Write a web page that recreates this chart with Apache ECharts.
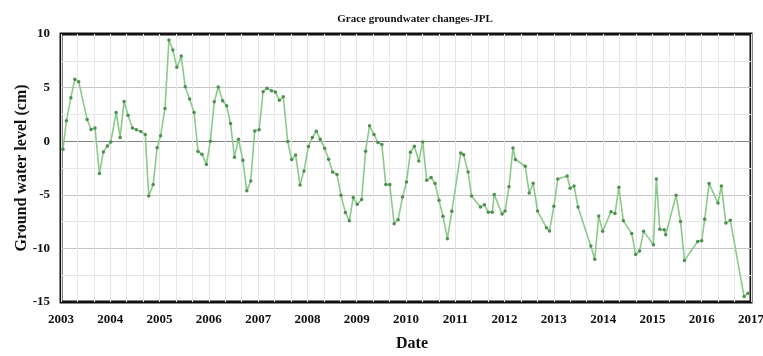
<!DOCTYPE html>
<html>
<head>
<meta charset="utf-8">
<script src="https://cdn.jsdelivr.net/npm/echarts@6/dist/echarts.min.js"></script>
<style>
  html, body { margin: 0; padding: 0; background: #fff; }
  #chart { width: 763px; height: 356px; }
</style>
</head>
<body>
<div id="chart"></div>
<script>
// GRACE (JPL) groundwater anomaly, monthly solutions, decimal years
const years = [
  2003.04, 2003.11, 2003.20, 2003.28, 2003.36, 2003.53, 2003.61, 2003.69, 2003.78, 2003.86, 2003.94,
  2004.01, 2004.12, 2004.20, 2004.28, 2004.36, 2004.45, 2004.53, 2004.62, 2004.71, 2004.78, 2004.87, 2004.95,
  2005.02, 2005.11, 2005.19, 2005.27, 2005.35, 2005.44, 2005.52, 2005.61, 2005.70, 2005.78, 2005.86, 2005.95,
  2006.03, 2006.11, 2006.19, 2006.28, 2006.36, 2006.44, 2006.52, 2006.60, 2006.69, 2006.77, 2006.85, 2006.93,
  2007.02, 2007.10, 2007.18, 2007.27, 2007.35, 2007.43, 2007.51, 2007.60, 2007.68, 2007.76, 2007.85, 2007.93,
  2008.02, 2008.10, 2008.18, 2008.26, 2008.35, 2008.43, 2008.51, 2008.60, 2008.68, 2008.77, 2008.85, 2008.93,
  2009.01, 2009.10, 2009.18, 2009.26, 2009.35, 2009.43, 2009.51, 2009.59, 2009.67, 2009.76, 2009.84, 2009.93,
  2010.01, 2010.09, 2010.17, 2010.26, 2010.34, 2010.42, 2010.51, 2010.59, 2010.67, 2010.75, 2010.84, 2010.93,
  2011.11, 2011.17, 2011.26, 2011.33, 2011.51, 2011.59, 2011.67, 2011.75, 2011.79, 2011.95,
  2012.01, 2012.09, 2012.17, 2012.22, 2012.42, 2012.50, 2012.58, 2012.67, 2012.85, 2012.91,
  2013.00, 2013.08, 2013.27, 2013.33, 2013.41, 2013.49, 2013.75, 2013.83, 2013.91, 2013.99,
  2014.16, 2014.24, 2014.32, 2014.41, 2014.58, 2014.66, 2014.74, 2014.82,
  2015.02, 2015.08, 2015.15, 2015.24, 2015.27, 2015.48, 2015.57, 2015.65, 2015.92,
  2016.00, 2016.06, 2016.15, 2016.33, 2016.40, 2016.49, 2016.58, 2016.86, 2016.94
];

// Groundwater level anomaly (cm)
const levels = [
  -0.75, 1.90, 4.05, 5.77, 5.54, 2.03, 1.09, 1.24, -3.02, -1.00, -0.44,
  -0.07, 2.68, 0.35, 3.71, 2.43, 1.24, 1.06, 0.91, 0.63, -5.11, -4.05, -0.61,
  0.50, 3.06, 9.44, 8.50, 6.89, 7.94, 5.07, 3.93, 2.68, -0.96, -1.21, -2.18,
  0.00, 3.67, 5.05, 3.77, 3.30, 1.65, -1.50, 0.19, -1.78, -4.63, -3.71, 0.96,
  1.06, 4.61, 4.95, 4.70, 4.58, 3.83, 4.14, -0.03, -1.71, -1.28, -4.08, -2.78,
  -0.50, 0.35, 0.93, 0.19, -0.65, -1.68, -2.87, -3.11, -5.05, -6.64, -7.43, -5.26,
  -5.89, -5.45, -0.93, 1.43, 0.63, -0.12, -0.31, -4.05, -4.05, -7.69, -7.32, -5.21,
  -3.80, -1.03, -0.47, -1.84, -0.07, -3.64, -3.39, -3.95, -5.51, -7.01, -9.09, -6.54,
  -1.11, -1.27, -2.87, -5.12, -6.14, -5.92, -6.62, -6.62, -4.97, -6.78,
  -6.52, -4.25, -0.63, -1.71, -2.34, -4.83, -3.93, -6.52, -8.08, -8.38,
  -6.07, -3.53, -3.24, -4.39, -4.19, -6.14, -9.77, -11.01, -6.98, -8.41,
  -6.57, -6.75, -4.30, -7.43, -8.60, -10.56, -10.25, -8.41,
  -9.66, -3.52, -8.22, -8.27, -8.72, -5.05, -7.50, -11.12, -9.35,
  -9.28, -7.29, -3.95, -5.77, -4.18, -7.64, -7.38, -14.49, -14.18
];

// y-axis tick values, used for the label formatter
const yTicks = [-15, -10, -5, 0, 5, 10];

const serif = "'Liberation Serif', 'DejaVu Serif', serif";
const points = years.map((y, i) => [y, levels[i]]);

const chart = echarts.init(document.getElementById('chart'), null, { renderer: 'canvas' });
chart.setOption({
  animation: false,
  backgroundColor: '#ffffff',
  title: {
    text: 'Grace groundwater changes-JPL',
    left: 410,
    textAlign: 'center',
    top: 9,
    textStyle: { fontFamily: serif, fontSize: 11, fontWeight: 'bold', color: '#111' }
  },
  grid: {
    left: 61, right: 12, top: 34, bottom: 54,
    containLabel: false,
    outerBoundsMode: 'none',
    show: true,
    borderColor: '#111',
    borderWidth: 3,
    backgroundColor: 'transparent'
  },
  xAxis: {
    type: 'value',
    min: 2003, max: 2017, interval: 1,
    name: 'Date',
    nameLocation: 'middle',
    nameGap: 34,
    nameMoveOverlap: false,
    nameTextStyle: { fontFamily: serif, fontSize: 16, fontWeight: 'bold', color: '#111', padding: [0, 0, 0, 12] },
    axisLine: { show: false },
    axisTick: { show: false },
    axisLabel: {
      margin: 11,
      fontFamily: serif, fontSize: 13, fontWeight: 'bold', color: '#111',
      formatter: v => String(Math.round(v))
    },
    splitLine: { show: true, lineStyle: { color: '#e3e3e3', width: 1 } },
    minorTick: { show: false, splitNumber: 3 },
    minorSplitLine: { show: true, lineStyle: { color: '#e8e8e8', width: 1 } }
  },
  yAxis: {
    type: 'value',
    min: -15, max: 10, interval: 5,
    name: 'Ground water level (cm)',
    nameLocation: 'middle',
    nameGap: 31,
    nameMoveOverlap: false,
    nameTextStyle: { fontFamily: serif, fontSize: 16, fontWeight: 'bold', color: '#111' },
    axisLine: { show: false },
    axisTick: { show: false },
    axisLabel: {
      margin: 11,
      fontFamily: serif, fontSize: 13, fontWeight: 'bold', color: '#111',
      formatter: v => (yTicks.includes(v) ? String(v) : '')
    },
    splitLine: {
      show: true,
      lineStyle: { color: ['#111', '#c4c4c4', '#c4c4c4', '#808080', '#c4c4c4', '#111'], width: 1 }
    },
    minorTick: { show: false, splitNumber: 2 },
    minorSplitLine: { show: true, lineStyle: { color: '#e6e6e6', width: 1 } }
  },
  series: [{
    type: 'line',
    data: points,
    showSymbol: true,
    symbol: 'circle',
    symbolSize: 3.5,
    lineStyle: { color: '#8acb8a', width: 1.6 },
    itemStyle: { color: '#4f8f4f', borderWidth: 0 },
    z: 3
  }]
});
</script>
</body>
</html>
